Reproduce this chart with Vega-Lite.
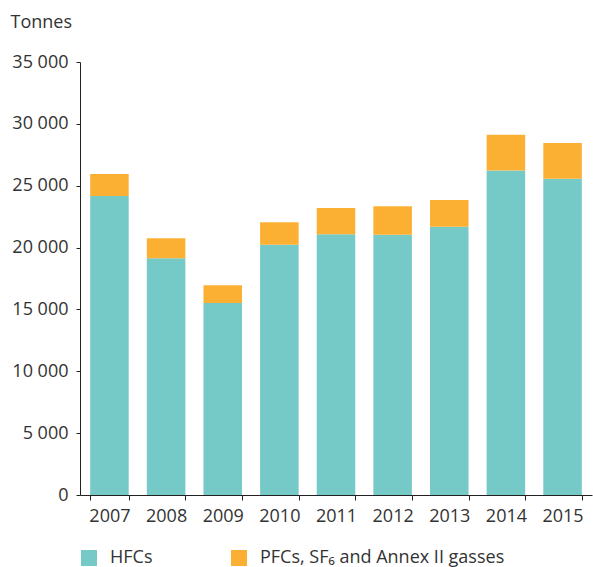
{
  "$schema": "https://vega.github.io/schema/vega-lite/v6.json",
  "width": 512,
  "height": 433,
  "autosize": {"type": "none"},
  "padding": {"left": 80, "top": 62, "right": 1, "bottom": 72},
  "background": "white",
  "data": {
    "values": [
      {"year": "2007", "gas": "HFCs", "tonnes": 24160},
      {"year": "2007", "gas": "PFCs, SF₆ and Annex II gasses", "tonnes": 1790},
      {"year": "2008", "gas": "HFCs", "tonnes": 19140},
      {"year": "2008", "gas": "PFCs, SF₆ and Annex II gasses", "tonnes": 1620},
      {"year": "2009", "gas": "HFCs", "tonnes": 15510},
      {"year": "2009", "gas": "PFCs, SF₆ and Annex II gasses", "tonnes": 1440},
      {"year": "2010", "gas": "HFCs", "tonnes": 20220},
      {"year": "2010", "gas": "PFCs, SF₆ and Annex II gasses", "tonnes": 1830},
      {"year": "2011", "gas": "HFCs", "tonnes": 21080},
      {"year": "2011", "gas": "PFCs, SF₆ and Annex II gasses", "tonnes": 2110},
      {"year": "2012", "gas": "HFCs", "tonnes": 21030},
      {"year": "2012", "gas": "PFCs, SF₆ and Annex II gasses", "tonnes": 2320},
      {"year": "2013", "gas": "HFCs", "tonnes": 21680},
      {"year": "2013", "gas": "PFCs, SF₆ and Annex II gasses", "tonnes": 2160},
      {"year": "2014", "gas": "HFCs", "tonnes": 26220},
      {"year": "2014", "gas": "PFCs, SF₆ and Annex II gasses", "tonnes": 2890},
      {"year": "2015", "gas": "HFCs", "tonnes": 25570},
      {"year": "2015", "gas": "PFCs, SF₆ and Annex II gasses", "tonnes": 2890}
    ]
  },
  "mark": {"type": "bar"},
  "encoding": {
    "x": {
      "field": "year",
      "type": "nominal",
      "scale": {"paddingInner": 0.32, "paddingOuter": 0.18},
      "axis": {
        "title": null,
        "labelAngle": 0,
        "tickBand": "extent",
        "tickSize": 5,
        "tickColor": "#222",
        "domainColor": "#222",
        "labelPadding": 7,
        "labelFontSize": 18,
        "labelColor": "#333",
        "labelFont": "Open Sans"
      }
    },
    "y": {
      "field": "tonnes",
      "type": "quantitative",
      "aggregate": "sum",
      "stack": "zero",
      "scale": {"domain": [0, 35000], "nice": false},
      "axis": {
        "title": "Tonnes",
        "titleAngle": 0,
        "titleAlign": "left",
        "titleBaseline": "alphabetic",
        "titleX": -70,
        "titleY": -35,
        "titleFont": "Open Sans",
        "titleFontSize": 18,
        "titleFontWeight": "normal",
        "titleColor": "#333",
        "values": [0, 5000, 10000, 15000, 20000, 25000, 30000, 35000],
        "labelExpr": "replace(format(datum.value, ',.0f'), ',', ' ')",
        "grid": false,
        "tickSize": 4,
        "tickColor": "#222",
        "domainColor": "#222",
        "labelPadding": 8,
        "labelFontSize": 18,
        "labelColor": "#333",
        "labelFont": "Open Sans"
      }
    },
    "color": {
      "field": "gas",
      "type": "nominal",
      "scale": {
        "domain": ["HFCs", "PFCs, SF₆ and Annex II gasses"],
        "range": ["#75C9C6", "#FBB034"]
      },
      "legend": {
        "title": null,
        "orient": "none",
        "legendX": 0,
        "legendY": 487,
        "direction": "horizontal",
        "symbolType": "square",
        "symbolSize": 256,
        "symbolStrokeWidth": 0,
        "symbolOpacity": 1,
        "labelFontSize": 18,
        "labelFont": "Open Sans",
        "labelColor": "#333",
        "labelOffset": 12,
        "columnPadding": 77,
        "labelLimit": 400
      }
    },
    "order": {"field": "gas", "sort": "ascending"}
  },
  "config": {
    "view": {"stroke": null}
  }
}
